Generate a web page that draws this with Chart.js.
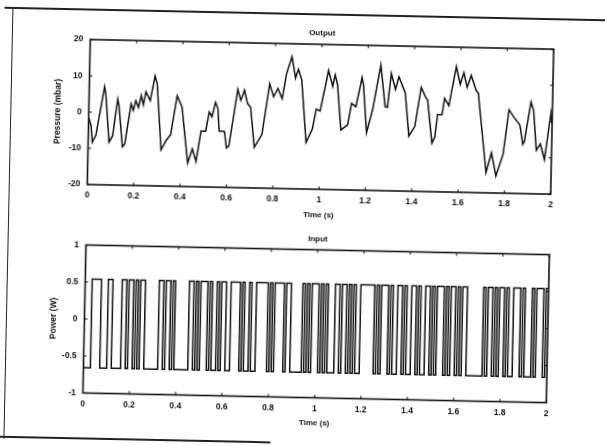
<!DOCTYPE html>
<html>
<head>
<meta charset="utf-8">
<script src="https://cdn.jsdelivr.net/npm/chart.js@4.4.0/dist/chart.umd.min.js"></script>
<style>
  html, body { margin: 0; padding: 0; background: #fff; }
  #page { position: relative; width: 605px; height: 446px; overflow: hidden; background: #fff; }
  /* the scan is a little tilted, so the whole sheet is turned with it */
  #scan { position: absolute; left: 0; top: 0; width: 605px; height: 446px;
          transform: rotate(1.2deg); transform-origin: 302px 223px; }
  .plot { position: absolute; left: 0; width: 605px; height: 223px; }
  #top { top: 0; }
  #bot { top: 223px; }
  .rule { position: absolute; background: #222; }
</style>
</head>
<body>
<div id="page">
  <div id="scan">
    <div class="rule" style="left:0;top:13px;width:605px;height:2px"></div>
    <div class="rule" style="left:8px;top:13px;width:1px;height:432px"></div>
    <div class="rule" style="left:4px;top:442px;width:271px;height:2px"></div>
    <div class="plot" id="top"><canvas id="c1" width="605" height="223"></canvas></div>
    <div class="plot" id="bot"><canvas id="c2" width="605" height="223"></canvas></div>
  </div>
</div>

<script>
// ---- Output: pressure (mbar) against time (s)
const outTime = [0, 0.011, 0.018, 0.033, 0.066, 0.072, 0.09, 0.105, 0.124, 0.13, 0.148, 0.158,
  0.182, 0.192, 0.202, 0.214, 0.225, 0.235, 0.245, 0.264, 0.283, 0.293, 0.315, 0.337, 0.355,
  0.38, 0.402, 0.431, 0.45, 0.467, 0.486, 0.506, 0.52, 0.532, 0.546, 0.557, 0.564, 0.587,
  0.597, 0.607, 0.626, 0.641, 0.655, 0.67, 0.684, 0.698, 0.717, 0.749, 0.778, 0.796, 0.814,
  0.833, 0.85, 0.872, 0.889, 0.901, 0.916, 0.94, 0.966, 0.981, 0.998, 1.031, 1.05, 1.06,
  1.071, 1.089, 1.118, 1.133, 1.152, 1.176, 1.183, 1.2, 1.224, 1.256, 1.278, 1.288, 1.302,
  1.321, 1.335, 1.35, 1.364, 1.383, 1.408, 1.432, 1.451, 1.461, 1.483, 1.495, 1.505, 1.524,
  1.534, 1.553, 1.582, 1.6, 1.615, 1.63, 1.647, 1.669, 1.679, 1.719, 1.741, 1.762, 1.791,
  1.813, 1.835, 1.861, 1.875, 1.882, 1.907, 1.919, 1.934, 1.951, 1.97, 1.994, 2.0];
const pressure = [-1.5, -3.7, -8.3, -6.3, 7.1, 5.1, -8.2, -6.4, 3.7, 1.9, -9.4, -8.6,
  2.5, 0.7, 3.4, 1.6, 4.8, 2.3, 5.9, 3.5, 10.3, 8.1, -10.0, -7.3, -5.8,
  5.0, 1.9, -13.5, -9.6, -13.0, -4.6, -4.6, 0.7, -0.6, 3.4, 1.7, -4.5, -4.6,
  -9.1, -8.6, 0.0, 7.1, 4.1, 6.9, 3.3, 2.2, -8.8, -5.2, 8.8, 5.3, 7.6,
  4.8, 11.7, 16.4, 10.6, 13.0, 10.1, -7.1, -3.4, 2.1, 1.6, 12.9, 8.5, 11.7,
  8.9, -3.5, -2.0, 3.9, 3.0, 11.1, 9.0, -4.1, 2.2, 14.6, 3.2, 3.0, 12.4,
  8.0, 11.5, 9.2, 7.0, -4.8, -2.1, 8.7, 6.1, 5.2, -6.6, -4.9, 1.3, 1.3,
  5.8, 3.8, 14.7, 9.8, 13.0, 9.0, 12.3, 8.2, 7.4, -14.4, -8.9, -15.3, -9.3,
  3.0, 1.0, -1.1, -6.4, -5.5, 5.3, 3.0, -8.0, -6.2, -10.5, 2.3, -0.6];

// ---- Input: binary power signal (W), run lengths in samples of 10 ms, starting low
const sampleTime = 0.01;
const powerLevels = [-0.66, 0.54];   // low, high
const inputRuns = [3, 4, 3, 2, 4, 2, 1, 2, 1, 1, 1, 2, 6, 2, 1, 2, 1, 1, 6, 2, 1, 1, 1, 3,
  1, 1, 2, 1, 1, 2, 2, 4, 1, 1, 2, 1, 2, 5, 1, 1, 1, 4, 1, 2, 5, 1, 1, 1, 1, 3,
  1, 1, 1, 1, 3, 2, 1, 2, 1, 1, 1, 1, 2, 6, 1, 1, 1, 3, 1, 1, 2, 2, 1, 1, 2, 2,
  1, 1, 2, 2, 1, 1, 1, 3, 1, 1, 1, 2, 1, 1, 1, 2, 7, 1, 1, 2, 1, 1, 1, 2, 1, 1,
  2, 3, 1, 1, 3, 1, 1, 3, 1, 1];

// ---- axes
const timeTicks = [0, 0.2, 0.4, 0.6, 0.8, 1, 1.2, 1.4, 1.6, 1.8, 2];
const pressureTicks = [-20, -10, 0, 10, 20];
const powerTicks = [-1, -0.5, 0, 0.5, 1];

const outPts = outTime.map((t, i) => ({ x: t, y: pressure[i] }));

const inPts = [];
let n = 0;
inputRuns.forEach((r, i) => {
  inPts.push({ x: n * sampleTime, y: powerLevels[i % 2] });
  n += r;
});
inPts.push({ x: n * sampleTime, y: powerLevels[(inputRuns.length - 1) % 2] });

const FONT = "'Liberation Sans', Arial, sans-serif";
const AXIS_LEFT = 86.5;

// box round the axes with small inward ticks, and the title above it
const matlabBox = {
  id: 'matlabBox',
  afterDraw(chart, args, opts) {
    const { ctx, chartArea: a, scales } = chart;
    ctx.save();
    ctx.strokeStyle = '#111';
    ctx.lineWidth = 1.6;
    ctx.strokeRect(a.left, a.top, a.right - a.left, a.bottom - a.top);
    ctx.lineWidth = 1;
    timeTicks.forEach(v => {
      const x = scales.x.getPixelForValue(v);
      ctx.beginPath();
      ctx.moveTo(x, a.bottom); ctx.lineTo(x, a.bottom - 3);
      ctx.moveTo(x, a.top); ctx.lineTo(x, a.top + 3);
      ctx.stroke();
    });
    opts.yTicks.forEach(v => {
      const y = scales.y.getPixelForValue(v);
      ctx.beginPath();
      ctx.moveTo(a.left, y); ctx.lineTo(a.left + 3, y);
      ctx.moveTo(a.right, y); ctx.lineTo(a.right - 3, y);
      ctx.stroke();
    });
    ctx.fillStyle = '#111';
    ctx.font = 'bold 8px ' + FONT;
    ctx.textAlign = 'center';
    ctx.textBaseline = 'middle';
    ctx.fillText(opts.title, (a.left + a.right) / 2, a.top - 11);
    ctx.restore();
  }
};

function makeChart(id, pts, yTicks, yTitle, title, stepped, pad, xHeight) {
  return new Chart(document.getElementById(id), {
    type: 'line',
    data: {
      datasets: [{
        data: pts,
        borderColor: '#111',
        borderWidth: 1.5,
        pointRadius: 0,
        stepped: stepped,
        tension: 0,
        fill: false
      }]
    },
    options: {
      responsive: false,
      animation: false,
      layout: { padding: pad },
      plugins: {
        legend: { display: false },
        tooltip: { enabled: false },
        matlabBox: { title: title, yTicks: yTicks }
      },
      scales: {
        x: {
          type: 'linear', min: 0, max: 2,
          afterBuildTicks: s => { s.ticks = timeTicks.map(v => ({ value: v })); },
          afterFit: s => { s.height = xHeight; },
          grid: { display: false, drawTicks: false }, border: { display: false },
          ticks: {
            padding: 6, maxRotation: 0, autoSkip: false, color: '#111',
            font: { family: FONT, size: 8.5, weight: 'bold' },
            callback: v => String(+v.toFixed(1))
          },
          title: { display: true, text: 'Time (s)', color: '#111', padding: 0,
                   font: { family: FONT, size: 8, weight: 'bold' } }
        },
        y: {
          min: yTicks[0], max: yTicks[yTicks.length - 1],
          afterBuildTicks: s => { s.ticks = yTicks.map(v => ({ value: v })); },
          afterFit: s => { s.width = AXIS_LEFT - pad.left; },
          grid: { display: false, drawTicks: false }, border: { display: false },
          ticks: {
            padding: 7, color: '#111',
            font: { family: FONT, size: 8.5, weight: 'bold' },
            callback: v => String(v)
          },
          title: { display: true, text: yTitle, color: '#111', padding: 0,
                   font: { family: FONT, size: 8.5, weight: 'bold' } }
        }
      }
    },
    plugins: [matlabBox]
  });
}

makeChart('c1', outPts, pressureTicks, 'Pressure (mbar)', 'Output', false,
  { left: 51, right: 55, top: 44, bottom: 3 }, 31);
makeChart('c2', inPts, powerTicks, 'Power (W)', 'Input', true,
  { left: 51, right: 55, top: 26.5, bottom: 18.5 }, 30);
</script>
</body>
</html>
